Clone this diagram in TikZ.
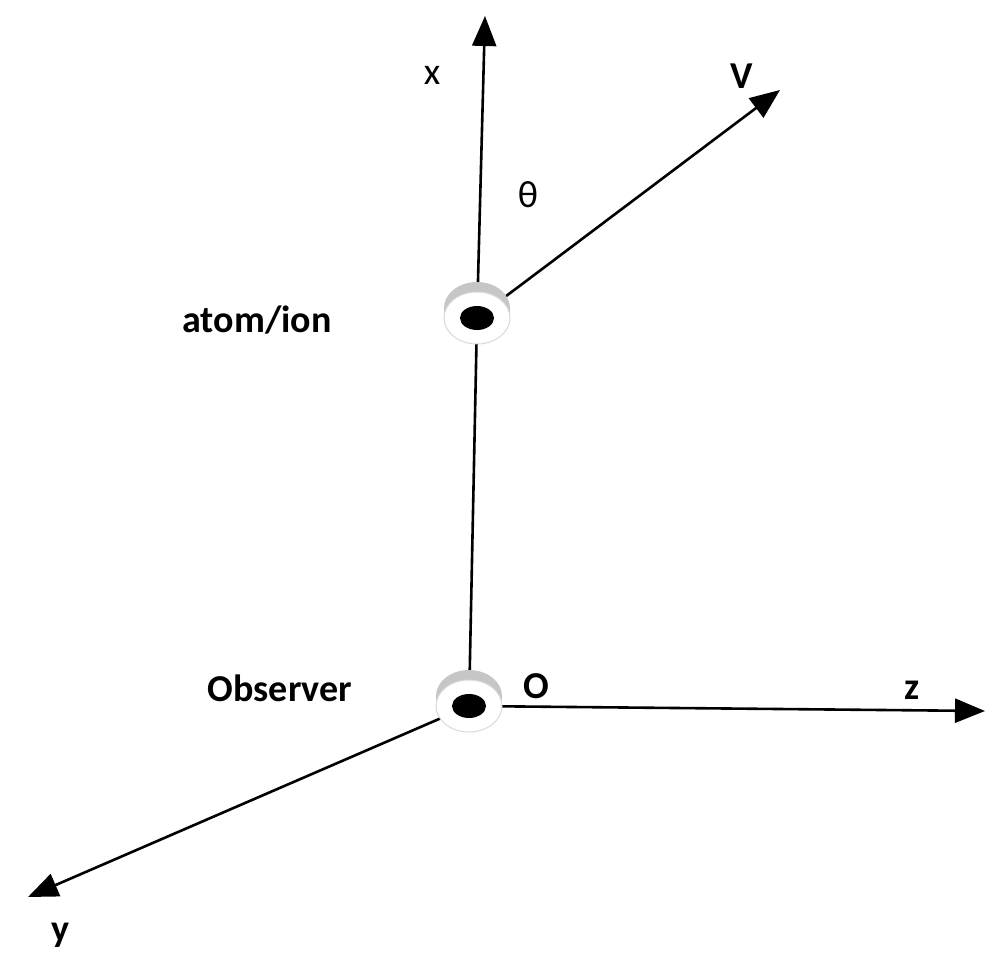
\documentclass[tikz,border=0pt]{standalone}
\usepackage{fontspec}
\setmainfont{Carlito}
\usetikzlibrary{arrows.meta,shapes.geometric}
\begin{document}
\begin{tikzpicture}[x=1pt,y=-1pt,
  ax/.style={line width=2.6pt,-{Triangle[length=30pt,width=24pt]}},
  lbl/.style={font=\fontsize{38}{40}\selectfont\bfseries},
  lbn/.style={font=\fontsize{38}{40}\selectfont}]
\useasboundingbox (0,0) rectangle (1005,977);
\coordinate (A) at (477,318);
\coordinate (O) at (469,706);
\coordinate (xt) at (485,16);
\coordinate (vt) at (780,90);
\coordinate (zt) at (985,711);
\coordinate (yt) at (28,897);
\draw[line width=2.6pt] (O) -- (A);
\draw[ax] (A) -- (xt);
\draw[ax] (A) -- (vt);
\draw[ax] (O) -- (zt);
\draw[ax] (O) -- (yt);
\foreach \p/\n in {A/da,O/do}{
  \fill[gray!45] ([yshift=10pt]\p) ellipse [x radius=33pt,y radius=26pt];
  \fill[gray!45] ([xshift=-33pt]\p) rectangle ([xshift=33pt,yshift=10pt]\p);
  \fill[white,draw=gray!30,line width=1pt] (\p) ellipse [x radius=33pt,y radius=26pt];
  \node[fill=black,ellipse,inner sep=0pt,minimum width=34pt,minimum height=24pt] (\n) at (\p) {};
}
\node[lbn] (lx) at (432,75) {x};
\node[lbl] (lv) at (742,76) {V};
\node[lbn] (lth) at (528,195) {θ};
\node[lbl] (la) at (257,320) {atom/ion};
\node[lbl] (lobs) at (280,688) {Observer};
\node[lbl] (lo) at (536,686) {O};
\node[lbl] (lz) at (912,690) {z};
\node[lbl] (ly) at (60,935) {y};
\end{tikzpicture}
\end{document}
